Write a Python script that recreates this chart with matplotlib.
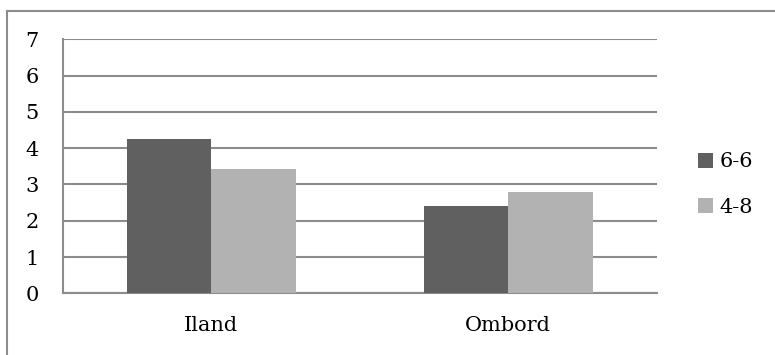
import numpy as np
import matplotlib.pyplot as plt
from matplotlib.lines import Line2D

plt.rcParams['font.family'] = ['DejaVu Serif']

categories = ['Iland', 'Ombord']
series = ['6-6', '4-8']
vals_66 = [4.25, 2.40]
vals_48 = [3.42, 2.78]
colors = ['#606060', '#b2b2b2']

fig = plt.figure(figsize=(7.75, 3.55), dpi=100)
ax = fig.add_axes([0.0809, 0.1738, 0.7665, 0.7155])

x = np.arange(len(categories))
w = 0.284
ax.bar(x - w / 2, vals_66, w, color=colors[0], label=series[0], zorder=3)
ax.bar(x + w / 2, vals_48, w, color=colors[1], label=series[1], zorder=3)

ax.set_xlim(-0.5, 1.5)
ax.set_ylim(0, 7)
ax.set_yticks(range(8))
ax.set_xticks(x)
ax.set_xticklabels(categories)
ax.yaxis.grid(True, color='#8c8c8c', lw=1.5, zorder=0)
ax.tick_params(axis='both', length=0, labelsize=15)
ax.tick_params(axis='y', pad=27)
ax.tick_params(axis='x', pad=16)
for lbl in ax.get_yticklabels():
    lbl.set_horizontalalignment('left')
for s in ['top', 'right']:
    ax.spines[s].set_visible(False)
ax.spines['left'].set_color('#8c8c8c')
ax.spines['bottom'].set_color('#8c8c8c')
ax.spines['left'].set_linewidth(1.5)
ax.spines['bottom'].set_linewidth(1.5)

leg = fig.legend(loc='center left', bbox_to_anchor=(0.9006, 0.48),
                 frameon=False, fontsize=15, handlelength=0.72,
                 handleheight=0.72, handletextpad=0.3, labelspacing=1.26,
                 borderpad=0, borderaxespad=0)

# outer chart border (top and left edges)
fig.add_artist(Line2D([0.009, 1.0], [0.969, 0.969], color='#8c8c8c', lw=1.5))
fig.add_artist(Line2D([0.009, 0.009], [0.0, 0.969], color='#8c8c8c', lw=1.5))

fig.savefig('out.png', dpi=100)
